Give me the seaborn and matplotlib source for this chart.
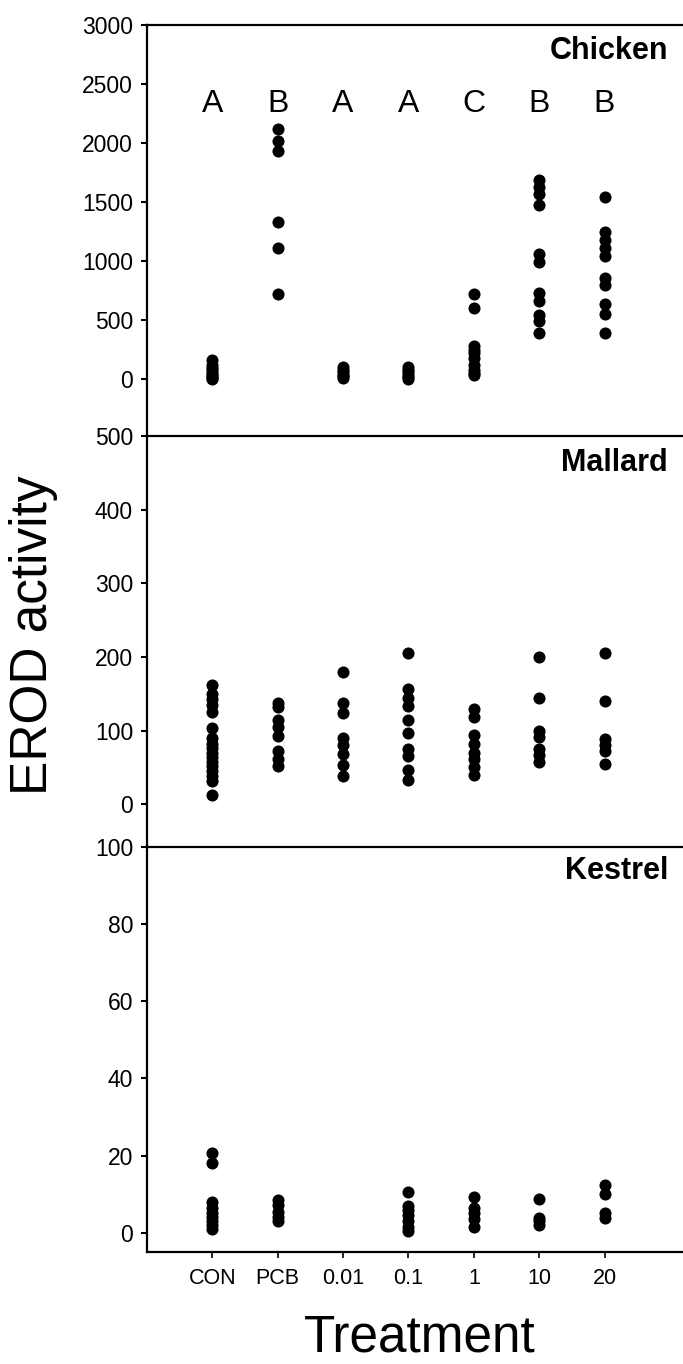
import numpy as np
import pandas as pd
import matplotlib
matplotlib.use("Agg")
import matplotlib.pyplot as plt
import seaborn as sns

sns.set_style("ticks")
plt.rcParams['font.family'] = ['Liberation Sans', 'DejaVu Sans']
plt.rcParams['text.color'] = 'black'
plt.rcParams['axes.labelcolor'] = 'black'
plt.rcParams['xtick.color'] = 'black'
plt.rcParams['ytick.color'] = 'black'
plt.rcParams['axes.edgecolor'] = 'black'

treatments = ["CON", "PCB", "0.01", "0.1", "1", "10", "20"]

# Chicken EROD activity
chicken = {
    "CON": [160, 125, 95, 75, 55, 40, 25, 12, 0],
    "PCB": [2120, 2020, 1935, 1330, 1110, 720],
    "0.01": [100, 80, 60, 40, 25, 10],
    "0.1": [105, 80, 60, 40, 20, 5],
    "1": [725, 600, 280, 250, 220, 180, 120, 80, 50, 40],
    "10": [1690, 1630, 1570, 1480, 1060, 990, 730, 660, 545, 490, 395],
    "20": [1540, 1250, 1180, 1110, 1040, 860, 800, 640, 550, 390],
}
chicken_letters = ["A", "B", "A", "A", "C", "B", "B"]

# Mallard EROD activity
mallard = {
    "CON": [162, 150, 143, 135, 125, 104, 90, 82, 76, 70, 64, 58, 52, 45, 38, 31, 12],
    "PCB": [138, 132, 115, 105, 93, 72, 62, 52],
    "0.01": [180, 137, 124, 90, 80, 68, 54, 38],
    "0.1": [205, 156, 144, 133, 114, 97, 75, 65, 47, 33],
    "1": [130, 118, 94, 82, 70, 61, 51, 40],
    "10": [200, 144, 99, 92, 75, 67, 57],
    "20": [205, 140, 88, 80, 72, 55],
}

# Kestrel EROD activity
kestrel = {
    "CON": [20.6, 18, 8, 6.5, 5, 4, 3, 2, 1],
    "PCB": [8.5, 7.3, 5.5, 4.2, 3],
    "0.01": [],
    "0.1": [10.5, 7, 6, 4.5, 3, 1.5, 0.5],
    "1": [9.2, 6.3, 5, 3.5, 1.5],
    "10": [8.7, 3.8, 3, 2],
    "20": [12.3, 10, 5, 3.8],
}

species = ["Chicken", "Mallard", "Kestrel"]
datasets = [chicken, mallard, kestrel]
ylims = [(-480, 3000), (-58, 500), (-5, 100)]
yticks = [np.arange(0, 3001, 500), np.arange(0, 501, 100), np.arange(0, 101, 20)]


def to_frame(d):
    rows = []
    for t in treatments:
        for v in d[t]:
            rows.append((t, v))
    df = pd.DataFrame(rows, columns=["Treatment", "EROD"])
    df["Treatment"] = pd.Categorical(df["Treatment"], categories=treatments)
    return df


W, H = 683, 1364
fig = plt.figure(figsize=(W / 100, H / 100), dpi=100)

left = 147 / W
panel_px = [(25, 436), (436, 847), (847, 1252)]
title_y = [0.937, 0.934, 0.941]

for i, (sp, d) in enumerate(zip(species, datasets)):
    top_px, bot_px = panel_px[i]
    ax = fig.add_axes([left, 1 - bot_px / H, 1 - left, (bot_px - top_px) / H])
    ax.patch.set_visible(False)
    df = to_frame(d)
    sns.stripplot(data=df, x="Treatment", y="EROD", order=treatments, jitter=False,
                  color="black", size=8.7, linewidth=0, ax=ax)
    ax.set_xlim(-1.0, 7.2)
    ax.set_ylim(*ylims[i])
    ax.set_yticks(yticks[i])
    ax.set_ylabel("")
    ax.set_xlabel("")
    for s in ["left", "bottom", "top"]:
        ax.spines[s].set_linewidth(1.6)
        ax.spines[s].set_color("black")
    ax.spines["right"].set_visible(False)
    if i != 0:
        ax.spines["top"].set_visible(False)
    ax.tick_params(axis="y", direction="out", length=4.5, width=1.5, pad=5.5,
                   labelsize=16.5, left=True, colors="black")
    if i == 2:
        ax.set_xticks(range(len(treatments)))
        ax.set_xticklabels(treatments)
        ax.tick_params(axis="x", direction="out", length=4.5, width=1.2, pad=7,
                       labelsize=15.5, bottom=True, colors="black")
    else:
        ax.set_xticks([])
    ax.text(0.972, title_y[i], sp, transform=ax.transAxes, ha="right", va="center",
            fontsize=22, fontweight="bold", color="black")
    if i == 0:
        for k, letter in enumerate(chicken_letters):
            ax.text(k, 2330, letter, ha="center", va="center", fontsize=23,
                    color="black")

fig.text(34 / W, 1 - 635 / H, "EROD activity", rotation=90, ha="center", va="center",
         fontsize=37, color="black")
fig.text(420 / W, 1 - 1338 / H, "Treatment", ha="center", va="center", fontsize=37,
         color="black")

fig.savefig("out.png", dpi=100)
